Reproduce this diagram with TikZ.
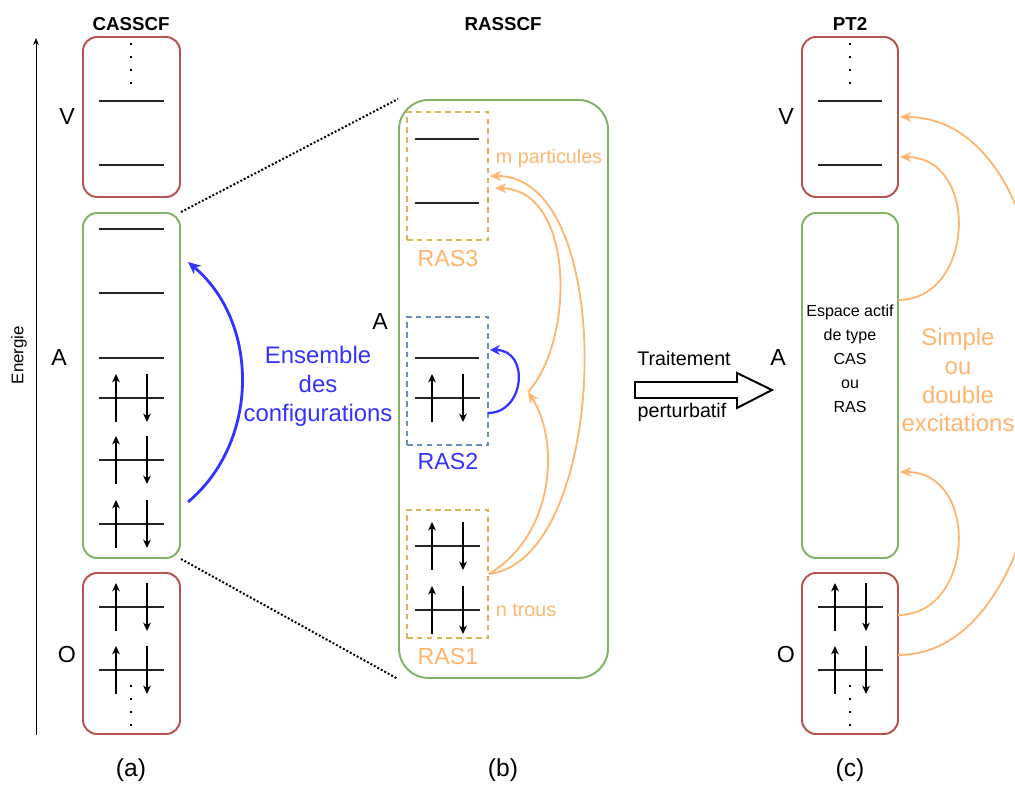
\documentclass[tikz,border=0pt]{standalone}
\usepackage{fontspec}
\setmainfont{Liberation Sans}
\usepackage{xcolor}
\usetikzlibrary{arrows.meta,fit}

\definecolor{rouge}{HTML}{B85450}
\definecolor{vert}{HTML}{82B366}
\definecolor{jaune}{HTML}{D6B656}
\definecolor{bleugris}{HTML}{6C8EBF}
\definecolor{orangeex}{HTML}{FFB570}
\definecolor{bleu}{HTML}{3333FF}

\tikzset{
  boite/.style={draw=#1, line width=1.4pt, rounded corners=10pt, inner sep=0pt},
  rasbox/.style={draw=#1, line width=1.1pt, dash pattern=on 4pt off 3pt, inner sep=0pt},
  niveau/.style={line width=1pt, black!85},
  spin/.style={line width=1pt, -{Stealth[length=6pt,width=5.5pt]}},
  excit/.style={orangeex, line width=1.3pt, -{Stealth[length=8pt,width=7pt]}},
  titre/.style={font=\fontsize{13.3}{16}\selectfont\bfseries},
  lettre/.style={font=\fontsize{16.5}{20}\selectfont},
  legende/.style={font=\fontsize{17.5}{21}\selectfont},
}

% une paire de spins sur un niveau
\newcommand{\paire}[2]{%
  \draw[niveau] (#1,#2) -- ++(65,0);
  \draw[spin] (#1+17,#2+24) -- ++(0,-48);
  \draw[spin] (#1+48,#2-24) -- ++(0,48);
}
% quatre points verticaux
\newcommand{\points}[2]{%
  \foreach \k in {0,1,2,3} \fill (#1-1.3,#2+13*\k-1.3) rectangle ++(2.6,2.6);
}

\begin{document}
\begin{tikzpicture}[x=0.025cm, y=-0.025cm]
\useasboundingbox (0,0) rectangle (1015,786);

% titres
\node[titre] (t1) at (131,24) {CASSCF};
\node[titre] (t2) at (503,24) {RASSCF};
\node[titre] (t3) at (850,24) {PT2};

% axe de l'energie
\coordinate (e0) at (36,735);
\coordinate (e1) at (36,38);
\draw[line width=0.7pt, -{Stealth[length=5pt,width=4pt]}] (e0) -- (e1);
\node[rotate=90, font=\fontsize{12}{14}\selectfont] (energie) at (19,355) {Energie};

% (a) CASSCF
\node[boite=rouge, fit={(83,37) (180,197)}] (casV) {};
\node[boite=vert, fit={(83,213) (180,558)}] (casA) {};
\node[boite=rouge, fit={(83,573) (180,734)}] (casO) {};
\node[lettre] (lV1) at (67,117) {V};
\node[lettre] (lA1) at (59,358) {A};
\node[lettre] (lO1) at (67,655) {O};
\points{131}{44}
\draw[niveau] (99,101) -- (164,101);
\draw[niveau] (99,165) -- (164,165);
\foreach \y in {229,293,358} \draw[niveau] (99,\y) -- (164,\y);
\foreach \y in {398,460,524} {\paire{99}{\y}}
\paire{99}{607}
\paire{99}{670}
\points{131}{686}
\node[legende] (sa) at (131,770) {(a)};

% ensemble des configurations
\coordinate (c0) at (188,502);
\coordinate (c1) at (188,262);
\draw[bleu, line width=2pt, -{Stealth[length=9pt,width=8pt]}] (c0) to[out=40, in=-40] (c1);
\node[legende, bleu, align=center, font=\fontsize{17}{20.6}\selectfont] (ens) at (318,386) {Ensemble\\des\\configurations};

% (b) RASSCF
\node[boite=vert, rounded corners=21pt, fit={(399,100) (608,678)}] (rasA) {};
\draw[line width=1.4pt, dash pattern=on 1.4pt off 1.4pt] (casA.north east) -- (rasA.north west);
\draw[line width=1.4pt, dash pattern=on 1.4pt off 1.4pt] (casA.south east) -- (rasA.south west);
\node[lettre] (lA2) at (380,322) {A};
\node[rasbox=jaune, fit={(407,112) (488,240)}] (ras3) {};
\node[rasbox=bleugris, fit={(407,317) (488,445)}] (ras2) {};
\node[rasbox=jaune, fit={(407,510) (488,638)}] (ras1) {};
\draw[niveau] (415,139) -- (479,139);
\draw[niveau] (415,203) -- (479,203);
\draw[niveau] (415,358) -- (479,358);
\paire{415}{398}
\paire{415}{546}
\paire{415}{610}
\node[lettre, orangeex] (n3) at (448,259) {RAS3};
\node[lettre, bleu] (n2) at (448,462) {RAS2};
\node[lettre, orangeex] (n1) at (448,657) {RAS1};
\node[orangeex, anchor=west, font=\fontsize{14}{17}\selectfont] (mp) at (491,158) {m particules};
\node[orangeex, anchor=west, font=\fontsize{14}{17}\selectfont] (nt) at (491,610) {n trous};
\coordinate (b0) at (488,413);
\coordinate (b1) at (490,350);
\draw[bleu, line width=1.6pt, -{Stealth[length=7pt,width=7pt]}] (b0) .. controls (525,413) and (530,350) .. (b1);
\coordinate (o0) at (ras1.east);
\coordinate (o1) at (528,392);
\coordinate (o2) at (495,188);
\coordinate (o3) at (490,176);
\draw[excit] (o0) .. controls (555,535) and (560,440) .. (o1);
\draw[excit] (o1) .. controls (575,340) and (575,190) .. (o2);
\draw[excit] (o0) .. controls (610,560) and (620,175) .. (o3);
\node[legende] (sb) at (503,770) {(b)};

% traitement perturbatif
\draw[line width=1.4pt] (635,382) -- (737,382) -- (737,373) -- (772,390)
  -- (737,408) -- (737,398) -- (635,398) -- cycle;
\node[font=\fontsize{14}{17}\selectfont] (trait) at (684,358) {Traitement};
\node[font=\fontsize{14}{17}\selectfont] (pert) at (682,412) {perturbatif};

% (c) PT2
\node[boite=rouge, fit={(802,37) (898,197)}] (ptV) {};
\node[boite=vert, fit={(802,213) (898,558)}] (ptA) {};
\node[boite=rouge, fit={(802,573) (898,734)}] (ptO) {};
\node[lettre] (lV3) at (786,117) {V};
\node[lettre] (lA3) at (778,358) {A};
\node[lettre] (lO3) at (786,655) {O};
\points{850}{44}
\draw[niveau] (818,101) -- (882,101);
\draw[niveau] (818,165) -- (882,165);
\node[align=center, font=\fontsize{11.4}{17}\selectfont] (esp) at (850,359) {Espace actif\\de type\\CAS\\ou\\RAS};
\paire{818}{607}
\paire{818}{670}
\points{850}{686}
\node[legende] (sc) at (850,770) {(c)};

% simples ou doubles excitations
\coordinate (p0) at (898,300);
\coordinate (p1) at (900,157);
\coordinate (p2) at (898,615);
\coordinate (p3) at (900,472);
\coordinate (p4) at (898,655);
\coordinate (p5) at (900,117);
\draw[excit] (p0) .. controls (975,300) and (980,157) .. (p1);
\draw[excit] (p2) .. controls (975,615) and (980,472) .. (p3);
\draw[excit] (p4) .. controls (1090,655) and (1100,117) .. (p5);
\node[orangeex, align=center, font=\fontsize{17}{20.6}\selectfont] (simp) at (958,380) {Simple\\ou\\double\\excitations};
\end{tikzpicture}
\end{document}
